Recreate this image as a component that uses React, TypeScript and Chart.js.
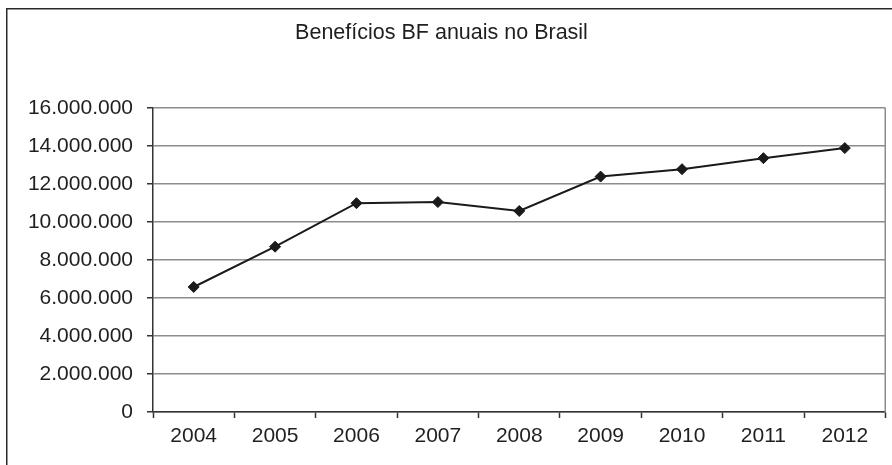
import React, { useEffect, useRef } from "react";
import { Chart, registerables } from "chart.js";

Chart.register(...registerables);

const TITLE = "Benefícios BF anuais no Brasil";
const YEARS = ["2004", "2005", "2006", "2007", "2008", "2009", "2010", "2011", "2012"];
const BENEFICIOS = [6580000, 8700000, 10990000, 11050000, 10580000, 12390000, 12780000, 13360000, 13890000];
const Y_MIN = 0;
const Y_MAX = 16000000;
const Y_STEP = 2000000;

const FONT = "'Liberation Sans', Arial, sans-serif";
const TEXT = "#1f1f1f";

const framePlugin = {
  id: "frame",
  beforeDraw(chart: any) {
    const ctx = chart.ctx;
    ctx.save();
    ctx.fillStyle = "#ffffff";
    ctx.fillRect(0, 0, chart.width, chart.height);
    ctx.strokeStyle = "#2a2a2a";
    ctx.lineWidth = 1.5;
    ctx.beginPath();
    ctx.moveTo(6.75, chart.height + 5);
    ctx.lineTo(6.75, 8.75);
    ctx.lineTo(chart.width + 5, 8.75);
    ctx.stroke();
    // chart title
    ctx.fillStyle = TEXT;
    ctx.font = `21.5px ${FONT}`;
    ctx.textAlign = "center";
    ctx.textBaseline = "middle";
    ctx.fillText(TITLE, 441.5, 33);
    ctx.restore();
  },
  beforeDatasetsDraw(chart: any) {
    const { ctx, chartArea } = chart;
    ctx.save();
    ctx.strokeStyle = "#8c8c8c";
    ctx.lineWidth = 1.5;
    ctx.beginPath();
    ctx.moveTo(Math.round(chartArea.right) - 0.75, chartArea.top);
    ctx.lineTo(Math.round(chartArea.right) - 0.75, chartArea.bottom);
    ctx.stroke();
    ctx.restore();
  },
};

export default function App() {
  const ref = useRef<HTMLCanvasElement>(null);
  useEffect(() => {
    if (!ref.current) return;
    const chart = new Chart(ref.current, {
      type: "line",
      data: {
        labels: YEARS,
        datasets: [
          {
            data: BENEFICIOS,
            borderColor: "#1a1a1a",
            backgroundColor: "#1a1a1a",
            borderWidth: 2,
            pointStyle: "rectRot",
            pointRadius: 5.5,
            pointBorderWidth: 1,
            pointBackgroundColor: "#1a1a1a",
            pointBorderColor: "#1a1a1a",
            tension: 0,
          },
        ],
      },
      options: {
        animation: false,
        responsive: false,
        maintainAspectRatio: false,
        layout: { padding: { left: 0, right: 1, top: 108, bottom: 0 } },
        plugins: {
          legend: { display: false },
          tooltip: { enabled: false },
          title: { display: false },
        },
        scales: {
          x: {
            offset: true,
            grid: {
              offset: true,
              drawOnChartArea: false,
              drawTicks: true,
              tickLength: 6,
              tickColor: "#333333",
              tickWidth: 1.5,
            },
            border: { color: "#333333", width: 1.5 },
            ticks: {
              color: TEXT,
              font: { family: FONT, size: 21 },
              padding: 6,
              maxRotation: 0,
            },
            afterFit(scale: any) {
              scale.height = 53;
            },
          },
          y: {
            min: Y_MIN,
            max: Y_MAX,
            grid: {
              color: "#8c8c8c",
              lineWidth: 1.5,
              drawTicks: true,
              tickLength: 6,
              tickColor: "#333333",
              tickWidth: 1.5,
            },
            border: { color: "#333333", width: 1.5 },
            ticks: {
              stepSize: Y_STEP,
              color: TEXT,
              font: { family: FONT, size: 21 },
              padding: 14,
              callback: (v: any) => Number(v).toLocaleString("de-DE"),
            },
            afterFit(scale: any) {
              scale.width = 153;
            },
          },
        },
      },
      plugins: [framePlugin],
    });
    return () => chart.destroy();
  }, []);
  return (
    <div style={{ position: "fixed", left: 0, top: 0, width: 892, height: 465, background: "#fff" }}>
      <canvas ref={ref} width={892} height={465} style={{ width: 892, height: 465, display: "block" }} />
    </div>
  );
}
